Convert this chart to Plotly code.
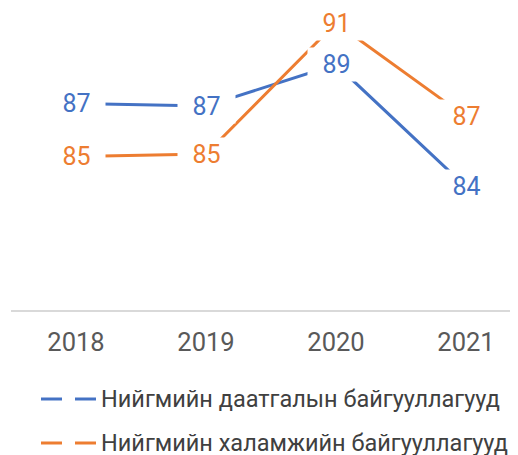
import plotly.graph_objects as go

YEARS = ["2018", "2019", "2020", "2021"]
INSURANCE = [87.29, 87.18, 88.91, 83.81]
WELFARE = [85.08, 85.18, 90.64, 86.73]
SERIES_NAMES = [
    "Нийгмийн даатгалын байгууллагууд",
    "Нийгмийн халамжийн байгууллагууд",
]
COLORS = ["#4472C4", "#ED7D31"]

FONT = "Roboto"
OFF = 8  # page body margin the browser adds around the plot div
W, H = 518 - OFF, 455 - OFF
L, T, PW, PH = 3, 2, 507, 300


def px_x(px):
    return (px - OFF - L) / PW


def px_y(py):
    return (OFF + T + PH - py) / PH


fig = go.Figure()
for name, vals, color in zip(SERIES_NAMES, [INSURANCE, WELFARE], COLORS):
    fig.add_trace(go.Scatter(x=YEARS, y=vals, mode="lines", name=name,
                             line=dict(color=color, width=3), showlegend=False))
    # value labels on a white box so the line breaks around them
    for i, v in enumerate(vals):
        fig.add_annotation(x=i, y=v, xref="x", yref="y", text=f"  {v:.0f}  ",
                           showarrow=False, bgcolor="white", borderpad=2,
                           font=dict(family=FONT, size=25, color=color))

# legend drawn by hand: two short dashes then the label
for i, (name, color) in enumerate(zip(SERIES_NAMES, COLORS)):
    cy = 399 + i * 44
    for x0, x1 in [(41, 62), (75, 96)]:
        fig.add_shape(type="line", xref="paper", yref="paper",
                      x0=px_x(x0), x1=px_x(x1), y0=px_y(cy), y1=px_y(cy),
                      line=dict(color=color, width=3))
    fig.add_annotation(xref="paper", yref="paper", x=px_x(99), y=px_y(cy),
                       xanchor="left", yanchor="middle", text=name, showarrow=False,
                       font=dict(family=FONT, size=23.5, color="#404040"))

fig.update_layout(
    width=W, height=H,
    margin=dict(l=L, r=W - L - PW, t=T, b=H - T - PH),
    plot_bgcolor="white", paper_bgcolor="white",
    showlegend=False,
    font=dict(family=FONT),
)
fig.update_xaxes(type="category", range=[-0.5, 3.4], showgrid=False, zeroline=False,
                 showline=True, linecolor="#D9D9D9", linewidth=1.5,
                 tickfont=dict(family=FONT, size=25.5, color="#595959"),
                 ticklabelstandoff=9)
fig.update_yaxes(range=[78.683, 91.183], showgrid=False, zeroline=False,
                 showline=False, showticklabels=False, ticks="")

fig.write_html("out.html")
